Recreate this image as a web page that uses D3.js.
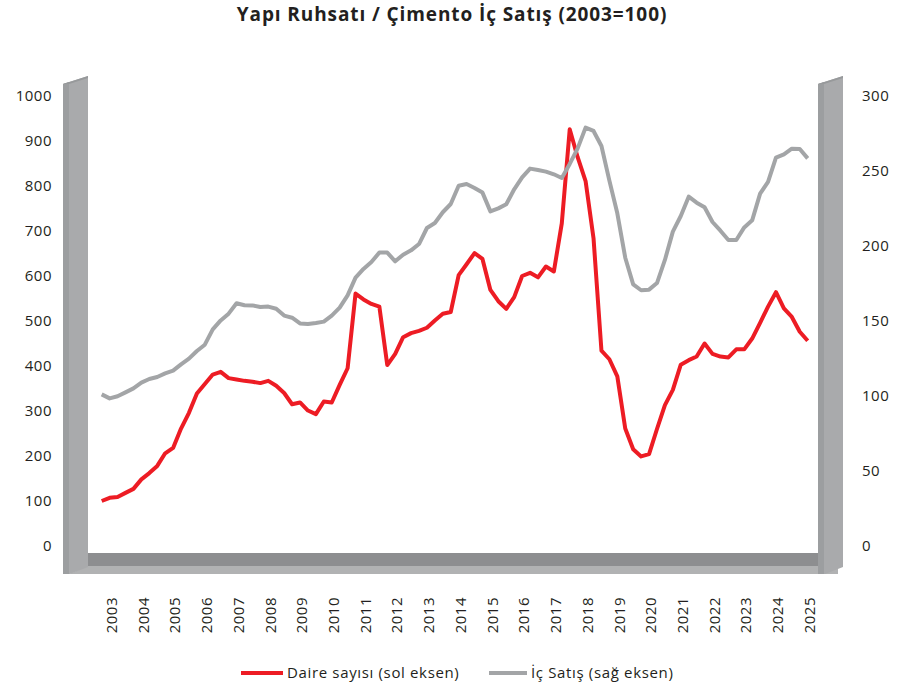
<!DOCTYPE html>
<html>
<head>
<meta charset="utf-8">
<script src="https://cdn.jsdelivr.net/npm/d3@7"></script>
<style>
  body { margin: 0; background: #fff; }
  svg { display: block; }
  text { font-family: "Open Sans", "Noto Sans", sans-serif; fill: #231f20; }
</style>
</head>
<body>
<div id="chart"></div>
<script>
// years shown on the x axis
var years = [2003, 2004, 2005, 2006, 2007, 2008, 2009, 2010, 2011, 2012, 2013, 2014,
    2015, 2016, 2017, 2018, 2019, 2020, 2021, 2022, 2023, 2024, 2025];

// quarterly series, 2003Q1 - 2025Q2 (2003=100)
var daireSayisi = [100, 107, 109, 118, 127, 148, 162, 178, 206, 218,
    261, 296, 339, 360, 381, 387, 373, 370, 367, 365,
    362, 367, 356, 340, 315, 319, 301, 293, 321, 319,
    358, 395, 561, 548, 538, 532, 402, 427, 464, 473,
    478, 485, 501, 516, 520, 602, 626, 651, 638, 569,
    544, 527, 553, 600, 607, 597, 621, 610, 717, 926,
    864, 811, 684, 434, 415, 377, 261, 215, 199, 204,
    260, 313, 347, 403, 413, 421, 450, 427, 421, 419,
    437, 437, 461, 496, 532, 564, 528, 509, 476, 456];

var icSatis = [101.1, 98.4, 99.8, 102.4, 105.1, 108.9, 111.3, 112.7, 115.1, 116.9,
    121.1, 124.9, 130.0, 134.2, 144.4, 150.4, 154.9, 161.8, 160.5, 160.4,
    159.3, 159.6, 158.2, 153.6, 152.2, 148.4, 148.0, 148.7, 149.6, 153.6,
    158.9, 167.1, 178.9, 184.7, 189.3, 195.6, 195.6, 189.8, 194.2, 197.1,
    201.3, 212.0, 215.3, 222.5, 228.0, 240.2, 241.3, 238.7, 235.6, 223.1,
    225.1, 227.8, 237.8, 245.8, 251.6, 250.7, 249.6, 247.8, 245.3, 254.7,
    265.1, 278.9, 276.7, 266.7, 243.6, 221.8, 192.2, 174.4, 170.5, 170.9,
    175.3, 190.7, 209.6, 220.0, 232.9, 228.9, 225.8, 216.0, 210.2, 204.0,
    204.0, 212.4, 217.1, 234.9, 242.7, 258.9, 261.1, 264.9, 264.7, 258.4];

var leftTicks = [0, 100, 200, 300, 400, 500, 600, 700, 800, 900, 1000];
var rightTicks = [0, 50, 100, 150, 200, 250, 300];

var seriesNames = ["Daire sayısı (sol eksen)", "İç Satış (sağ eksen)"];
var seriesColors = ["#ed1c24", "#a3a5a7"];

//build quarter categories from the years
var quarters = [];
years.forEach(function(y) {
    ["Q1", "Q2", "Q3", "Q4"].forEach(function(q) { quarters.push(y + q); });
});
quarters = quarters.slice(0, daireSayisi.length);

var svgWidth = 904;
var svgHeight = 688;

var svg = d3.select("#chart")
    .append("svg")
    .attr("width", svgWidth)
    .attr("height", svgHeight);

//title
svg.append("text")
    .attr("x", 452)
    .attr("y", 21)
    .attr("text-anchor", "middle")
    .style("font-size", "19px")
    .style("font-weight", "700")
    .style("letter-spacing", "0.9px")
    .text("Yapı Ruhsatı / Çimento İç Satış (2003=100)");

//scales
var xScale = d3.scalePoint()
    .domain(quarters)
    .range([101.7, 807.7]);

var yLeft = d3.scaleLinear()
    .domain([0, 1000])
    .range([546, 96]);

var yRight = d3.scaleLinear()
    .domain([0, 300])
    .range([546, 96]);

//3d frame: floor
svg.append("rect")
    .attr("x", 88).attr("y", 553)
    .attr("width", 730).attr("height", 13)
    .attr("fill", "#8d8e90");
svg.append("polygon")
    .attr("points", "69,574 88,566 838,566 838,574")
    .attr("fill", "#b1b2b3");

//3d frame: walls
function drawWall(x0) {
    var g = svg.append("g");
    g.append("polygon")
        .attr("points", [[x0, 84], [x0 + 25, 76], [x0 + 25, 567], [x0 + 7, 574], [x0, 574]].join(" "))
        .attr("fill", "#a9aaac");
    g.append("polygon")
        .attr("points", [[x0, 84], [x0 + 6, 82], [x0 + 6, 574], [x0, 574]].join(" "))
        .attr("fill", "#9c9ea0");
    g.append("polygon")
        .attr("points", [[x0, 84], [x0 + 25, 76], [x0 + 25, 78], [x0 + 6, 84]].join(" "))
        .attr("fill", "#97999b");
}
drawWall(63);
drawWall(818);

//axes
var leftAxis = d3.axisLeft(yLeft)
    .tickValues(leftTicks)
    .tickFormat(d3.format("d"))
    .tickSize(0)
    .tickPadding(3);
var rightAxis = d3.axisRight(yRight)
    .tickValues(rightTicks)
    .tickFormat(d3.format("d"))
    .tickSize(0)
    .tickPadding(3);

var gLeft = svg.append("g")
    .attr("transform", "translate(55,0)")
    .call(leftAxis);
var gRight = svg.append("g")
    .attr("transform", "translate(859,0)")
    .call(rightAxis);

[gLeft, gRight].forEach(function(g) {
    g.select(".domain").remove();
    g.selectAll("text")
        .attr("fill", "#231f20")
        .style("font-size", "15px")
        .style("letter-spacing", "0.5px")
        .style("font-family", "'Open Sans', 'Noto Sans', sans-serif");
});

//x axis, one label per year at the Q2 point
var xAxis = d3.axisBottom(xScale)
    .tickValues(quarters.filter(function(q) { return q.slice(4) === "Q2"; }))
    .tickFormat(function(q) { return q.slice(0, 4); })
    .tickSize(0);

var gX = svg.append("g")
    .attr("transform", "translate(1.5,590)")
    .call(xAxis);
gX.select(".domain").remove();
gX.selectAll("text")
    .attr("transform", "rotate(-90)")
    .attr("text-anchor", "end")
    .attr("x", -7)
    .attr("y", 0)
    .attr("dy", "0.35em")
    .attr("fill", "#231f20")
    .style("font-size", "15px")
    .style("letter-spacing", "0.5px")
    .style("font-family", "'Open Sans', 'Noto Sans', sans-serif");

//lines
var leftLine = d3.line()
    .x(function(d, i) { return xScale(quarters[i]); })
    .y(function(d) { return yLeft(d); });
var rightLine = d3.line()
    .x(function(d, i) { return xScale(quarters[i]); })
    .y(function(d) { return yRight(d); });

svg.append("path")
    .datum(daireSayisi)
    .attr("d", leftLine)
    .attr("fill", "none")
    .attr("stroke", seriesColors[0])
    .attr("stroke-width", 4)
    .attr("stroke-linejoin", "round");

svg.append("path")
    .datum(icSatis)
    .attr("d", rightLine)
    .attr("fill", "none")
    .attr("stroke", seriesColors[1])
    .attr("stroke-width", 4)
    .attr("stroke-linejoin", "round");

//legend
var legendX = [241, 489];
var legend = svg.selectAll(".legend")
    .data(seriesNames)
    .enter()
    .append("g")
    .attr("class", "legend")
    .attr("transform", function(d, i) { return "translate(" + legendX[i] + ",673)"; });

legend.append("line")
    .attr("x1", 0).attr("x2", function(d, i) { return i === 0 ? 42 : 38; })
    .attr("y1", 0).attr("y2", 0)
    .attr("stroke", function(d, i) { return seriesColors[i]; })
    .attr("stroke-width", 4);

legend.append("text")
    .attr("x", function(d, i) { return i === 0 ? 46 : 42; })
    .attr("y", 0)
    .attr("dy", "0.35em")
    .style("font-size", "15px")
    .style("letter-spacing", "0.65px")
    .text(function(d) { return d; });
</script>
</body>
</html>
